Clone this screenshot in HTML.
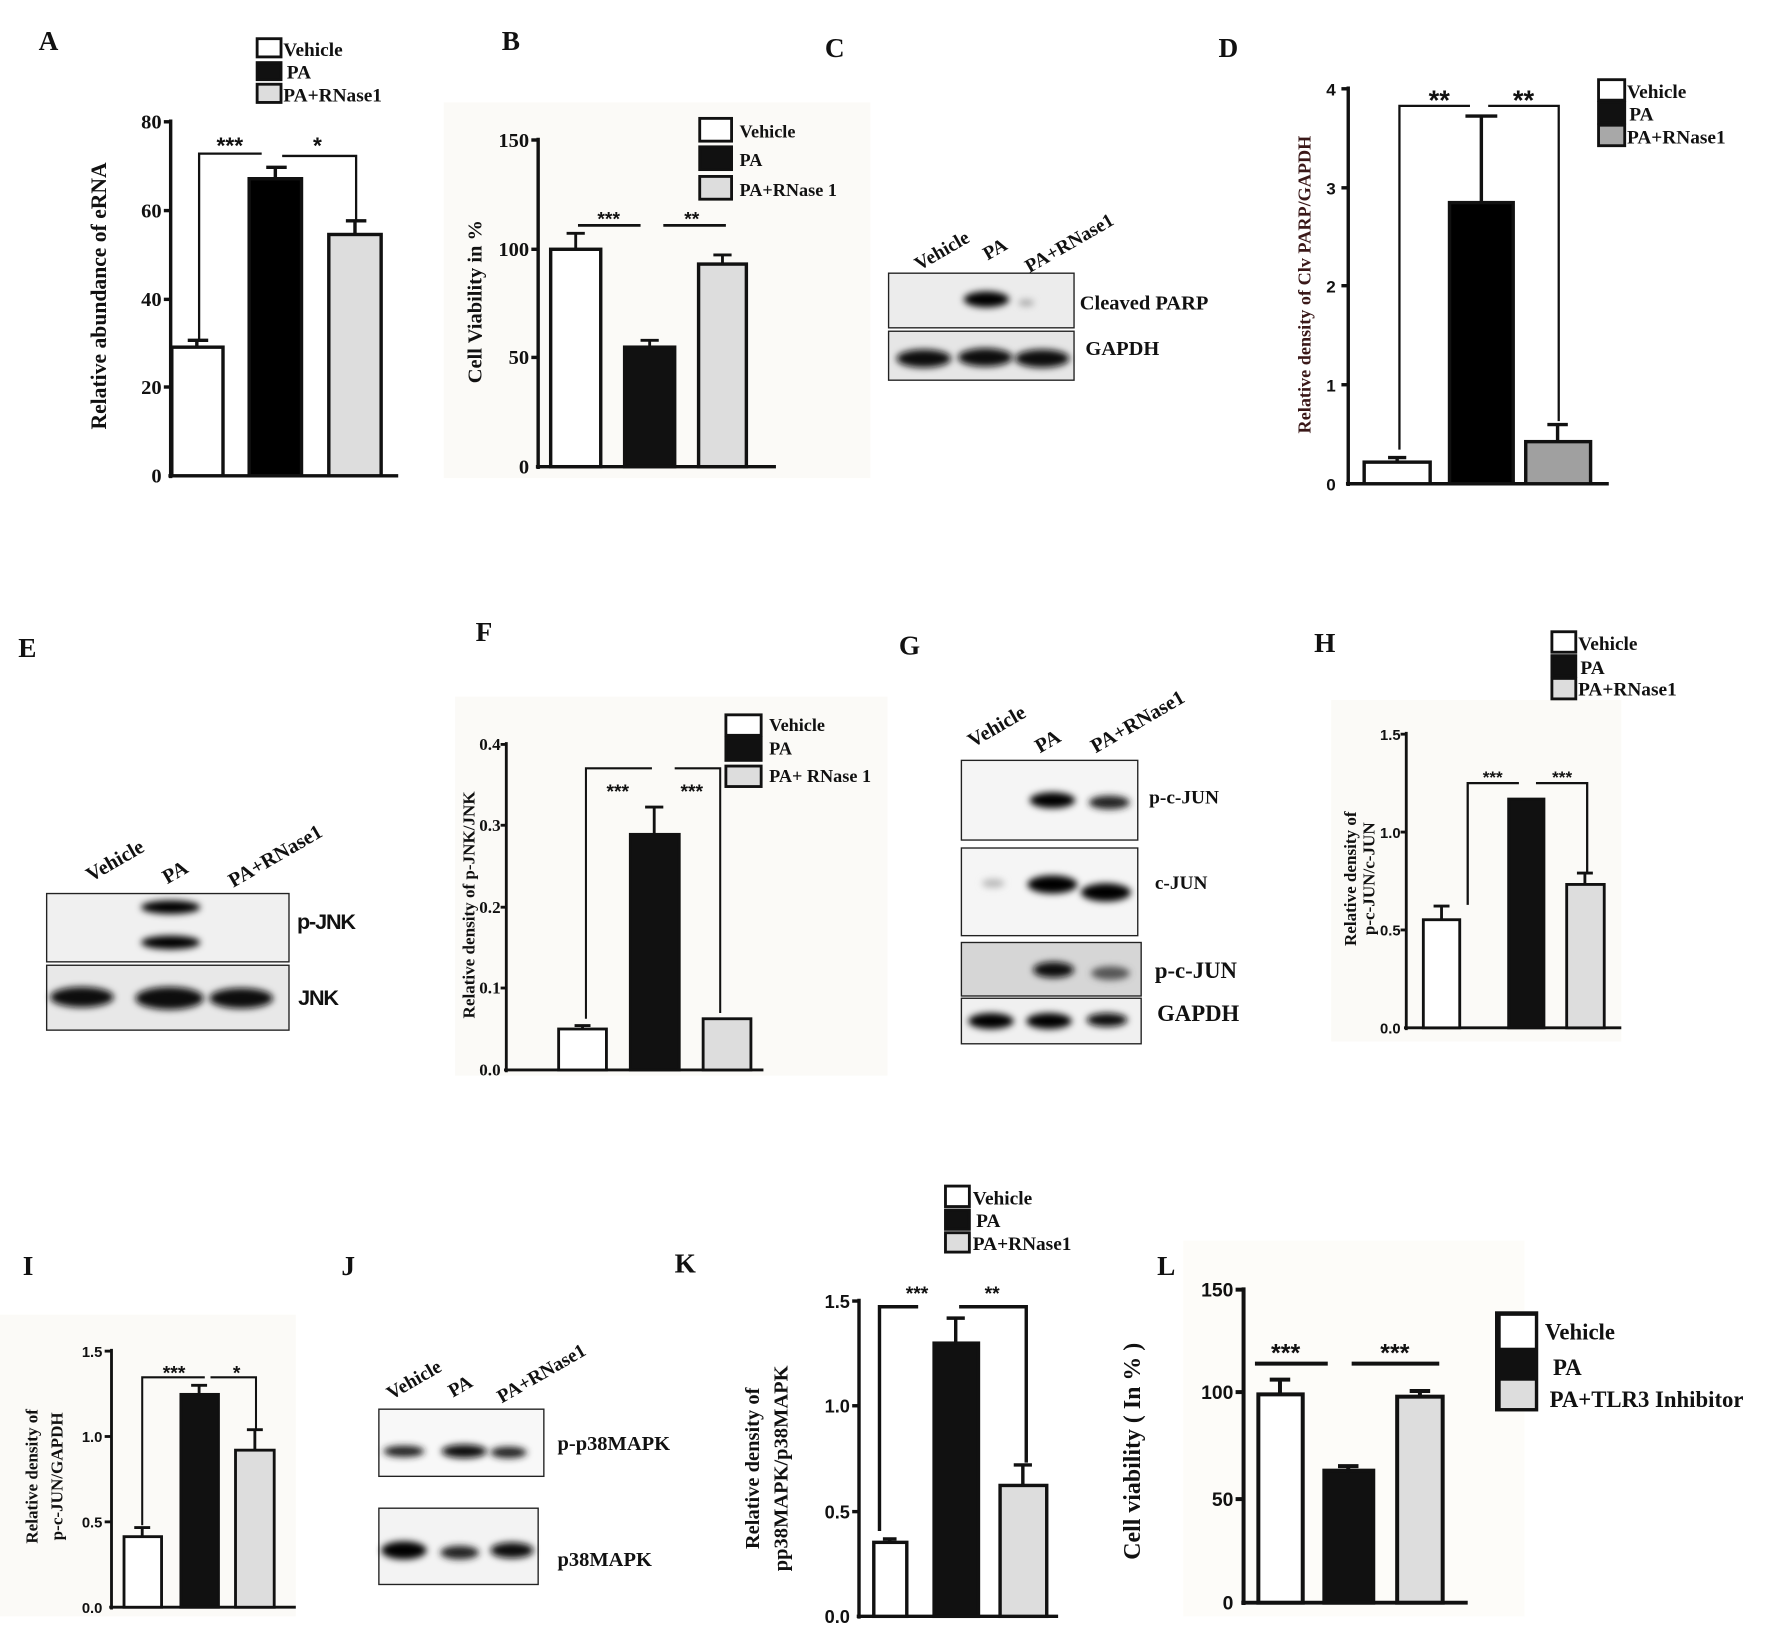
<!DOCTYPE html>
<html><head><meta charset="utf-8"><style>
html,body{margin:0;padding:0;background:#fff}
svg{display:block}
text{font-family:"Liberation Serif",serif;font-weight:bold;fill:#111}
.s{font-family:"Liberation Sans",sans-serif;font-weight:bold}
</style></head><body>
<svg width="1784" height="1630" viewBox="0 0 1568 1432" preserveAspectRatio="none" xmlns="http://www.w3.org/2000/svg">
<defs>
<filter id="bl" x="-50%" y="-100%" width="200%" height="300%"><feGaussianBlur stdDeviation="3"/></filter>
</defs>
<rect width="1568" height="1432" fill="#fff"/>
<rect x="390" y="90" width="375" height="330" fill="#fbfaf7"/>
<rect x="400" y="612" width="380" height="333" fill="#fbfaf7"/>
<rect x="1170" y="615" width="255" height="300" fill="#fbfaf7"/>
<rect x="0" y="1155" width="260" height="265" fill="#fbfaf7"/>
<rect x="1040" y="1090" width="300" height="330" fill="#fdfcf9"/>

<!-- ===== A ===== -->
<text x="34" y="44" font-size="24">A</text>
<g stroke="#111" stroke-width="2.5">
<rect x="226" y="34" width="21" height="16" fill="#fff"/>
<rect x="226" y="55" width="21" height="15" fill="#111"/>
<rect x="226" y="74" width="21" height="16" fill="#ddd"/>
</g>
<text x="249" y="49" font-size="17">Vehicle</text>
<text x="252" y="69" font-size="17">PA</text>
<text x="249" y="89" font-size="17">PA+RNase1</text>
<g stroke="#111" stroke-width="3" fill="none">
<line x1="150" y1="105" x2="150" y2="420"/><line x1="148" y1="418" x2="350" y2="418"/>
<line x1="144" y1="107" x2="150" y2="107"/><line x1="144" y1="185" x2="150" y2="185"/><line x1="144" y1="263" x2="150" y2="263"/><line x1="144" y1="340" x2="150" y2="340"/>
</g>
<g font-size="18" text-anchor="end"><text x="142" y="113">80</text><text x="142" y="191">60</text><text x="142" y="269">40</text><text x="142" y="346">20</text><text x="142" y="424">0</text></g>
<g stroke="#111" stroke-width="3">
<rect x="151" y="305" width="45" height="113" fill="#fff"/>
<rect x="219" y="157" width="46" height="261" fill="#000"/>
<rect x="289" y="206" width="46" height="212" fill="#ddd"/>
<path d="M173 305V299M165 299H183M242 157V147M234 147H252M312 206V194M304 194H322" fill="none"/>
<path d="M175 299V135H230M248 137H313V195" fill="none" stroke-width="2"/>
</g>
<text x="202" y="135" font-size="20" text-anchor="middle" class="s">***</text>
<text x="279" y="135" font-size="20" text-anchor="middle" class="s">*</text>
<text transform="translate(93,260) rotate(-90)" font-size="19" text-anchor="middle">Relative abundance of eRNA</text>

<!-- ===== B ===== -->
<text x="441" y="44" font-size="24">B</text>
<g stroke="#111" stroke-width="2.5">
<rect x="615" y="104" width="28" height="20" fill="#fff"/>
<rect x="615" y="129" width="28" height="20" fill="#111"/>
<rect x="615" y="155" width="28" height="20" fill="#ddd"/>
</g>
<text x="650" y="121" font-size="16">Vehicle</text>
<text x="650" y="146" font-size="16">PA</text>
<text x="650" y="172" font-size="16">PA+RNase 1</text>
<g stroke="#111" stroke-width="3" fill="none">
<line x1="473" y1="121" x2="473" y2="412"/><line x1="471" y1="410" x2="682" y2="410"/>
<line x1="467" y1="123" x2="473" y2="123"/><line x1="467" y1="219" x2="473" y2="219"/><line x1="467" y1="314" x2="473" y2="314"/>
</g>
<g font-size="18" text-anchor="end"><text x="465" y="129">150</text><text x="465" y="225">100</text><text x="465" y="320">50</text><text x="465" y="416">0</text></g>
<g stroke="#111" stroke-width="3">
<rect x="484" y="219" width="44" height="191" fill="#fff"/>
<rect x="549" y="305" width="44" height="105" fill="#111"/>
<rect x="614" y="232" width="42" height="178" fill="#ddd"/>
<path d="M506 219V205M498 205H514M571 305V299M563 299H579M635 232V224M627 224H643M508 198H563M583 198H638" fill="none" stroke-width="2.5"/>
</g>
<text x="535" y="198" font-size="17" text-anchor="middle" class="s">***</text>
<text x="608" y="198" font-size="17" text-anchor="middle" class="s">**</text>
<text transform="translate(423,265) rotate(-90)" font-size="18" text-anchor="middle">Cell Viability in %</text>

<!-- ===== C ===== -->
<text x="725" y="50" font-size="24">C</text>
<text transform="translate(808,238) rotate(-30)" font-size="17">Vehicle</text>
<text transform="translate(868,229) rotate(-30)" font-size="17">PA</text>
<text transform="translate(905,240) rotate(-30)" font-size="17">PA+RNase1</text>
<rect x="781" y="240" width="163" height="48" fill="#ececec" stroke="#222" stroke-width="1.2"/>
<ellipse cx="867" cy="263" rx="20" ry="7" fill="#000" filter="url(#bl)"/>
<ellipse cx="902" cy="266" rx="7" ry="3" fill="#aaa" filter="url(#bl)"/>
<rect x="781" y="291" width="163" height="43" fill="#e6e6e6" stroke="#222" stroke-width="1.2"/>
<ellipse cx="812" cy="315" rx="24" ry="8" fill="#111" filter="url(#bl)"/>
<ellipse cx="866" cy="314" rx="24" ry="8" fill="#111" filter="url(#bl)"/>
<ellipse cx="916" cy="315" rx="24" ry="8" fill="#111" filter="url(#bl)"/>
<text x="949" y="272" font-size="18">Cleaved PARP</text>
<text x="954" y="312" font-size="18">GAPDH</text>

<!-- ===== D ===== -->
<text x="1071" y="50" font-size="24">D</text>
<g stroke="#111" stroke-width="2.5">
<rect x="1405" y="70" width="23" height="18" fill="#fff"/>
<rect x="1405" y="90" width="23" height="18" fill="#111"/>
<rect x="1405" y="110" width="23" height="18" fill="#a8a8a8"/>
</g>
<text x="1430" y="86" font-size="17">Vehicle</text>
<text x="1432" y="106" font-size="17">PA</text>
<text x="1430" y="126" font-size="17">PA+RNase1</text>
<g stroke="#111" stroke-width="3" fill="none">
<line x1="1185" y1="76" x2="1185" y2="427"/><line x1="1183" y1="425" x2="1414" y2="425"/>
<line x1="1179" y1="78" x2="1185" y2="78"/><line x1="1179" y1="165" x2="1185" y2="165"/><line x1="1179" y1="251" x2="1185" y2="251"/><line x1="1179" y1="338" x2="1185" y2="338"/>
</g>
<g font-size="15" text-anchor="end"><text class="s" x="1174" y="84">4</text><text class="s" x="1174" y="171">3</text><text class="s" x="1174" y="257">2</text><text class="s" x="1174" y="344">1</text><text class="s" x="1174" y="431">0</text></g>
<g stroke="#111" stroke-width="3">
<rect x="1199" y="406" width="58" height="19" fill="#fff"/>
<rect x="1274" y="178" width="56" height="247" fill="#000"/>
<rect x="1341" y="388" width="57" height="37" fill="#a0a0a0"/>
<path d="M1228 406V402M1220 402H1236M1302 178V102M1288 102H1316M1369 388V373M1360 373H1378" fill="none"/>
<path d="M1230 395V93H1292M1308 93H1370V370" fill="none" stroke-width="2"/>
</g>
<text x="1265" y="96" font-size="24" text-anchor="middle" class="s">**</text>
<text x="1339" y="96" font-size="24" text-anchor="middle" class="s">**</text>
<text transform="translate(1152,250) rotate(-90)" font-size="16" text-anchor="middle" style="fill:#3a1818">Relative density of  Clv PARP/GAPDH</text>

<!-- ===== E ===== -->
<text x="16" y="577" font-size="24">E</text>
<text transform="translate(80,775) rotate(-30)" font-size="18">Vehicle</text>
<text transform="translate(147,777) rotate(-30)" font-size="18">PA</text>
<text transform="translate(205,780) rotate(-30)" font-size="18">PA+RNase1</text>
<rect x="41" y="785" width="213" height="60" fill="#f0f0f0" stroke="#222" stroke-width="1.2"/>
<ellipse cx="150" cy="797" rx="26" ry="6" fill="#000" filter="url(#bl)"/>
<ellipse cx="150" cy="828" rx="26" ry="6" fill="#000" filter="url(#bl)"/>
<rect x="41" y="848" width="213" height="57" fill="#e8e8e8" stroke="#222" stroke-width="1.2"/>
<ellipse cx="72" cy="876" rx="28" ry="9" fill="#111" filter="url(#bl)"/>
<ellipse cx="149" cy="877" rx="30" ry="10" fill="#111" filter="url(#bl)"/>
<ellipse cx="212" cy="877" rx="28" ry="9" fill="#111" filter="url(#bl)"/>
<text x="261" y="816" font-size="19" class="s" letter-spacing="-1">p-JNK</text>
<text x="262" y="883" font-size="19" class="s" letter-spacing="-1">JNK</text>

<!-- ===== F ===== -->
<text x="418" y="563" font-size="24">F</text>
<g stroke="#111" stroke-width="2.5">
<rect x="638" y="628" width="31" height="18" fill="#fff"/>
<rect x="638" y="648" width="31" height="20" fill="#111"/>
<rect x="638" y="673" width="31" height="18" fill="#ddd"/>
</g>
<text x="676" y="642" font-size="16">Vehicle</text>
<text x="676" y="663" font-size="16">PA</text>
<text x="676" y="687" font-size="16">PA+ RNase 1</text>
<g stroke="#111" stroke-width="2.5" fill="none">
<line x1="445" y1="652" x2="445" y2="942"/><line x1="443" y1="940" x2="671" y2="940"/>
<line x1="440" y1="654" x2="445" y2="654"/><line x1="440" y1="725" x2="445" y2="725"/><line x1="440" y1="797" x2="445" y2="797"/><line x1="440" y1="868" x2="445" y2="868"/>
</g>
<g font-size="15" text-anchor="end"><text x="440" y="659">0.4</text><text x="440" y="730">0.3</text><text x="440" y="802">0.2</text><text x="440" y="873">0.1</text><text x="440" y="945">0.0</text></g>
<g stroke="#111" stroke-width="2.5">
<rect x="491" y="904" width="42" height="36" fill="#fff"/>
<rect x="554" y="733" width="43" height="207" fill="#111"/>
<rect x="618" y="895" width="42" height="45" fill="#ddd"/>
<path d="M575 733V709M567 709H583M512 904V901M505 901H519" fill="none"/>
<path d="M515 895V675H573M593 675H633V890" fill="none" stroke-width="1.8"/>
</g>
<text x="543" y="701" font-size="17" text-anchor="middle" class="s">***</text>
<text x="608" y="701" font-size="17" text-anchor="middle" class="s">***</text>
<text transform="translate(417,795) rotate(-90)" font-size="15" text-anchor="middle">Relative density of p-JNK/JNK</text>

<!-- ===== G ===== -->
<text x="790" y="575" font-size="24">G</text>
<text transform="translate(855,657) rotate(-30)" font-size="18">Vehicle</text>
<text transform="translate(914,662) rotate(-30)" font-size="18">PA</text>
<text transform="translate(963,662) rotate(-30)" font-size="18">PA+RNase1</text>
<rect x="845" y="668" width="155" height="70" fill="#f5f5f5" stroke="#222" stroke-width="1.2"/>
<ellipse cx="925" cy="703" rx="20" ry="7" fill="#000" filter="url(#bl)"/>
<ellipse cx="975" cy="705" rx="18" ry="6" fill="#222" filter="url(#bl)"/>
<rect x="845" y="745" width="155" height="77" fill="#f5f5f5" stroke="#222" stroke-width="1.2"/>
<ellipse cx="873" cy="776" rx="10" ry="4" fill="#bbb" filter="url(#bl)"/>
<ellipse cx="925" cy="777" rx="22" ry="8" fill="#000" filter="url(#bl)"/>
<ellipse cx="972" cy="784" rx="22" ry="8" fill="#000" filter="url(#bl)"/>
<rect x="845" y="828" width="158" height="47" fill="#d6d6d6" stroke="#222" stroke-width="1.2"/>
<ellipse cx="926" cy="852" rx="18" ry="7" fill="#111" filter="url(#bl)"/>
<ellipse cx="976" cy="855" rx="17" ry="6" fill="#555" filter="url(#bl)"/>
<rect x="845" y="877" width="158" height="40" fill="#f0f0f0" stroke="#222" stroke-width="1.2"/>
<ellipse cx="871" cy="897" rx="20" ry="7" fill="#000" filter="url(#bl)"/>
<ellipse cx="922" cy="897" rx="20" ry="7" fill="#000" filter="url(#bl)"/>
<ellipse cx="973" cy="896" rx="18" ry="6" fill="#111" filter="url(#bl)"/>
<text x="1010" y="706" font-size="17">p-c-JUN</text>
<text x="1015" y="781" font-size="17">c-JUN</text>
<text x="1015" y="859" font-size="20">p-c-JUN</text>
<text x="1017" y="897" font-size="20">GAPDH</text>

<!-- ===== H ===== -->
<text x="1155" y="573" font-size="24">H</text>
<g stroke="#111" stroke-width="2.5">
<rect x="1364" y="555" width="21" height="18" fill="#fff"/>
<rect x="1364" y="576" width="21" height="18" fill="#111"/>
<rect x="1364" y="596" width="21" height="18" fill="#ddd"/>
</g>
<text x="1387" y="571" font-size="17">Vehicle</text>
<text x="1389" y="592" font-size="17">PA</text>
<text x="1387" y="611" font-size="17">PA+RNase1</text>
<g stroke="#111" stroke-width="2.5" fill="none">
<line x1="1236" y1="643" x2="1236" y2="905"/><line x1="1234" y1="903" x2="1425" y2="903"/>
<line x1="1231" y1="645" x2="1236" y2="645"/><line x1="1231" y1="731" x2="1236" y2="731"/><line x1="1231" y1="817" x2="1236" y2="817"/>
</g>
<g font-size="13" text-anchor="end"><text class="s" x="1231" y="650">1.5</text><text class="s" x="1231" y="736">1.0</text><text class="s" x="1231" y="822">0.5</text><text class="s" x="1231" y="908">0.0</text></g>
<g stroke="#111" stroke-width="2.5">
<rect x="1251" y="808" width="32" height="95" fill="#fff"/>
<rect x="1326" y="702" width="31" height="201" fill="#111"/>
<rect x="1377" y="777" width="33" height="126" fill="#ddd"/>
<path d="M1267 808V796M1260 796H1274M1393 777V767M1386 767H1400" fill="none"/>
<path d="M1290 795V688H1335M1350 688H1395V768" fill="none" stroke-width="2"/>
</g>
<text x="1312" y="688" font-size="15" text-anchor="middle" class="s">***</text>
<text x="1373" y="688" font-size="15" text-anchor="middle" class="s">***</text>
<text transform="translate(1192,772) rotate(-90)" font-size="15" text-anchor="middle">Relative density of</text>
<text transform="translate(1208,772) rotate(-90)" font-size="15" text-anchor="middle">p-c-JUN/c-JUN</text>

<!-- ===== I ===== -->
<text x="20" y="1120" font-size="24">I</text>
<g stroke="#111" stroke-width="2.5" fill="none">
<line x1="98" y1="1185" x2="98" y2="1414"/><line x1="96" y1="1412" x2="260" y2="1412"/>
<line x1="92" y1="1187" x2="98" y2="1187"/><line x1="92" y1="1262" x2="98" y2="1262"/><line x1="92" y1="1337" x2="98" y2="1337"/>
</g>
<g font-size="13" text-anchor="end"><text class="s" x="90" y="1192">1.5</text><text class="s" x="90" y="1267">1.0</text><text class="s" x="90" y="1342">0.5</text><text class="s" x="90" y="1417">0.0</text></g>
<g stroke="#111" stroke-width="2.5">
<rect x="109" y="1350" width="33" height="62" fill="#fff"/>
<rect x="159" y="1225" width="33" height="187" fill="#111"/>
<rect x="207" y="1274" width="34" height="138" fill="#ddd"/>
<path d="M125 1350V1342M118 1342H132M175 1225V1217M168 1217H182M224 1274V1256M217 1256H231" fill="none"/>
<path d="M125 1340V1210H180M185 1210H225V1255" fill="none" stroke-width="1.8"/>
</g>
<text x="153" y="1212" font-size="17" text-anchor="middle" class="s">***</text>
<text x="208" y="1212" font-size="17" text-anchor="middle" class="s">*</text>
<text transform="translate(33,1297) rotate(-90)" font-size="15" text-anchor="middle">Relative density of</text>
<text transform="translate(55,1297) rotate(-90)" font-size="15" text-anchor="middle">p-c-JUN/GAPDH</text>

<!-- ===== J ===== -->
<text x="300" y="1120" font-size="24">J</text>
<text transform="translate(344,1230) rotate(-30)" font-size="17">Vehicle</text>
<text transform="translate(398,1228) rotate(-30)" font-size="17">PA</text>
<text transform="translate(441,1233) rotate(-30)" font-size="17">PA+RNase1</text>
<rect x="333" y="1238" width="145" height="59" fill="#f8f8f8" stroke="#222" stroke-width="1.2"/>
<ellipse cx="355" cy="1275" rx="18" ry="5" fill="#222" filter="url(#bl)"/>
<ellipse cx="408" cy="1275" rx="20" ry="6" fill="#111" filter="url(#bl)"/>
<ellipse cx="447" cy="1276" rx="16" ry="5" fill="#222" filter="url(#bl)"/>
<rect x="333" y="1325" width="140" height="67" fill="#f3f3f3" stroke="#222" stroke-width="1.2"/>
<ellipse cx="355" cy="1362" rx="20" ry="8" fill="#000" filter="url(#bl)"/>
<ellipse cx="404" cy="1364" rx="17" ry="6" fill="#222" filter="url(#bl)"/>
<ellipse cx="450" cy="1362" rx="19" ry="7" fill="#111" filter="url(#bl)"/>
<text x="490" y="1274" font-size="18">p-p38MAPK</text>
<text x="490" y="1376" font-size="18">p38MAPK</text>

<!-- ===== K ===== -->
<text x="593" y="1118" font-size="24">K</text>
<g stroke="#111" stroke-width="2.5">
<rect x="831" y="1042" width="21" height="18" fill="#fff"/>
<rect x="831" y="1063" width="21" height="17" fill="#111"/>
<rect x="831" y="1083" width="21" height="17" fill="#ddd"/>
</g>
<text x="855" y="1058" font-size="17">Vehicle</text>
<text x="858" y="1078" font-size="17">PA</text>
<text x="855" y="1098" font-size="17">PA+RNase1</text>
<g stroke="#111" stroke-width="3" fill="none">
<line x1="755" y1="1141" x2="755" y2="1422"/><line x1="753" y1="1420" x2="930" y2="1420"/>
<line x1="749" y1="1143" x2="755" y2="1143"/><line x1="749" y1="1235" x2="755" y2="1235"/><line x1="749" y1="1328" x2="755" y2="1328"/>
</g>
<g font-size="16" text-anchor="end"><text class="s" x="747" y="1149">1.5</text><text class="s" x="747" y="1241">1.0</text><text class="s" x="747" y="1334">0.5</text><text class="s" x="747" y="1426">0.0</text></g>
<g stroke="#111" stroke-width="3">
<rect x="768" y="1355" width="29" height="65" fill="#fff"/>
<rect x="821" y="1180" width="39" height="240" fill="#111"/>
<rect x="879" y="1305" width="41" height="115" fill="#ddd"/>
<path d="M782 1355V1352M776 1352H788M840 1180V1158M832 1158H848M899 1305V1287M891 1287H907" fill="none"/>
<path d="M773 1345V1148H807M843 1148H902V1285" fill="none" stroke-width="3"/>
</g>
<text x="806" y="1142" font-size="17" text-anchor="middle" class="s">***</text>
<text x="872" y="1142" font-size="17" text-anchor="middle" class="s">**</text>
<text transform="translate(667,1290) rotate(-90)" font-size="18" text-anchor="middle">Relative density of</text>
<text transform="translate(692,1290) rotate(-90)" font-size="18" text-anchor="middle">pp38MAPK/p38MAPK</text>

<!-- ===== L ===== -->
<text x="1017" y="1120" font-size="24">L</text>
<g stroke="#111" stroke-width="3.5" fill="none">
<line x1="1093" y1="1131" x2="1093" y2="1410"/><line x1="1091" y1="1408" x2="1290" y2="1408"/>
<line x1="1086" y1="1133" x2="1093" y2="1133"/><line x1="1086" y1="1223" x2="1093" y2="1223"/><line x1="1086" y1="1317" x2="1093" y2="1317"/>
</g>
<g font-size="17" text-anchor="end"><text class="s" x="1084" y="1139">150</text><text class="s" x="1084" y="1229">100</text><text class="s" x="1084" y="1323">50</text><text class="s" x="1084" y="1414">0</text></g>
<g stroke="#111" stroke-width="3.5">
<rect x="1106" y="1225" width="39" height="183" fill="#fff"/>
<rect x="1164" y="1292" width="43" height="116" fill="#111"/>
<rect x="1228" y="1227" width="40" height="181" fill="#ddd"/>
<path d="M1125 1225V1212M1116 1212H1134M1185 1292V1288M1176 1288H1194M1248 1227V1222M1239 1222H1257M1103 1198H1167M1188 1198H1265" fill="none"/>
</g>
<text x="1130" y="1196" font-size="22" text-anchor="middle" class="s">***</text>
<text x="1226" y="1196" font-size="22" text-anchor="middle" class="s">***</text>
<rect x="1314" y="1152" width="38" height="88" fill="#111"/>
<rect x="1319" y="1156" width="30" height="28" fill="#fff"/>
<rect x="1319" y="1213" width="30" height="24" fill="#ddd"/>
<text x="1358" y="1177" font-size="20">Vehicle</text>
<text x="1365" y="1208" font-size="20">PA</text>
<text x="1362" y="1236" font-size="20">PA+TLR3 Inhibitor</text>
<text transform="translate(1002,1275) rotate(-90)" font-size="21" text-anchor="middle">Cell viability ( In % )</text>
</svg>
</body></html>
